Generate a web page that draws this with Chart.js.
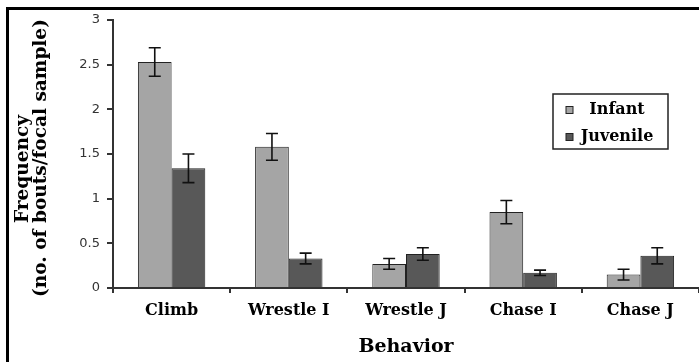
<!DOCTYPE html>
<html>
<head>
<meta charset="utf-8">
<script src="https://cdn.jsdelivr.net/npm/chart.js@4.4.0/dist/chart.umd.min.js"></script>
<style>
    body { margin: 0; background: #fff; }
    #wrap { position: relative; width: 699px; height: 362px; }
    #frame {
        position: absolute; left: 6px; top: 7px; right: 0; bottom: 0;
        border-left: 3px solid #000; border-top: 3px solid #000;
        pointer-events: none;
    }
</style>
</head>
<body>
<div id="wrap">
    <canvas id="behaviorChart" width="699" height="362"></canvas>
    <div id="frame"></div>
</div>
<script>
// Chart data
const categories = ['Climb', 'Wrestle I', 'Wrestle J', 'Chase I', 'Chase J'];
const infantValues = [2.53, 1.58, 0.27, 0.85, 0.15];
const juvenileValues = [1.34, 0.33, 0.38, 0.17, 0.36];
const infantErrors = [0.16, 0.15, 0.06, 0.13, 0.06];
const juvenileErrors = [0.16, 0.06, 0.07, 0.03, 0.09];
const yTitleLines = ['Frequency', '(no. of bouts/focal sample)'];

// Draw error bars on top of each bar
const errorBarPlugin = {
    id: 'errorBars',
    afterDatasetsDraw(chart) {
        const ctx = chart.ctx;
        const yScale = chart.scales.y;
        ctx.save();
        ctx.strokeStyle = '#111';
        ctx.lineWidth = 1.6;
        chart.data.datasets.forEach((ds, i) => {
            const meta = chart.getDatasetMeta(i);
            meta.data.forEach((bar, j) => {
                const v = ds.data[j];
                const e = ds.errors[j];
                const yTop = yScale.getPixelForValue(v + e);
                const yBot = yScale.getPixelForValue(v - e);
                ctx.beginPath();
                ctx.moveTo(bar.x, yTop);
                ctx.lineTo(bar.x, yBot);
                ctx.moveTo(bar.x - 6, yTop);
                ctx.lineTo(bar.x + 6, yTop);
                ctx.moveTo(bar.x - 6, yBot);
                ctx.lineTo(bar.x + 6, yBot);
                ctx.stroke();
            });
        });
        ctx.restore();
    }
};

// Two-line rotated y title, each line centred on its own
const yTitlePlugin = {
    id: 'yTitle',
    afterDraw(chart, args, opts) {
        const ctx = chart.ctx;
        ctx.save();
        ctx.font = 'bold 18.5px "DejaVu Serif"';
        ctx.fillStyle = '#000';
        ctx.textAlign = 'center';
        ctx.textBaseline = 'middle';
        yTitleLines.forEach((line, i) => {
            ctx.save();
            ctx.translate(opts.xs[i], opts.ys[i]);
            ctx.rotate(-Math.PI / 2);
            ctx.fillText(line, 0, 0);
            ctx.restore();
        });
        ctx.restore();
    }
};

// Boxed legend inside the plot
const boxLegendPlugin = {
    id: 'boxLegend',
    afterDraw(chart, args, opts) {
        const ctx = chart.ctx;
        ctx.save();
        ctx.strokeStyle = '#222';
        ctx.lineWidth = 1.5;
        ctx.strokeRect(opts.x, opts.y, opts.w, opts.h);
        ctx.font = 'bold 16px "DejaVu Serif"';
        ctx.textBaseline = 'middle';
        ctx.textAlign = 'center';
        chart.data.datasets.forEach((ds, i) => {
            const cy = opts.y + 16 + i * 27;
            ctx.fillStyle = ds.backgroundColor;
            ctx.fillRect(opts.x + 13, cy - 3.5, 7, 7);
            ctx.lineWidth = 1;
            ctx.strokeRect(opts.x + 13, cy - 3.5, 7, 7);
            ctx.fillStyle = '#000';
            ctx.fillText(ds.label, opts.x + 64, cy);
        });
        ctx.restore();
    }
};

new Chart(document.getElementById('behaviorChart'), {
    type: 'bar',
    data: {
        labels: categories,
        datasets: [
            {
                label: 'Infant',
                data: infantValues,
                errors: infantErrors,
                backgroundColor: '#a5a5a5',
                borderColor: '#222',
                borderWidth: 1
            },
            {
                label: 'Juvenile',
                data: juvenileValues,
                errors: juvenileErrors,
                backgroundColor: '#585858',
                borderColor: '#222',
                borderWidth: 1
            }
        ]
    },
    options: {
        responsive: false,
        animation: false,
        events: [],
        layout: { padding: { left: 0, top: 20, right: 0, bottom: 0 } },
        datasets: {
            bar: { categoryPercentage: 0.575, barPercentage: 1.0 }
        },
        plugins: {
            legend: { display: false },
            tooltip: { enabled: false },
            boxLegend: { x: 553, y: 94, w: 115, h: 55 },
            yTitle: { xs: [23, 41], ys: [169, 158] }
        },
        scales: {
            x: {
                afterFit(scale) { scale.height = 74; },
                grid: { drawOnChartArea: false, tickLength: 5, color: '#333', lineWidth: 2 },
                border: { color: '#333', width: 2 },
                ticks: {
                    padding: 8,
                    color: '#000',
                    font: { family: 'DejaVu Serif', weight: 'bold', size: 16 }
                },
                title: {
                    display: true,
                    text: 'Behavior',
                    color: '#000',
                    padding: { top: 0, bottom: 4 },
                    font: { family: 'DejaVu Serif', weight: 'bold', size: 19 }
                }
            },
            y: {
                min: 0,
                max: 3,
                afterFit(scale) { scale.width = 113; },
                grid: { drawOnChartArea: false, tickLength: 6, color: '#333', lineWidth: 2 },
                border: { color: '#333', width: 2 },
                ticks: {
                    stepSize: 0.5,
                    padding: 7,
                    color: '#333',
                    font: { family: 'DejaVu Sans', size: 13 },
                    callback: function(value) {
                        return String(value);
                    }
                }
            }
        }
    },
    plugins: [errorBarPlugin, boxLegendPlugin, yTitlePlugin]
});
</script>
</body>
</html>
